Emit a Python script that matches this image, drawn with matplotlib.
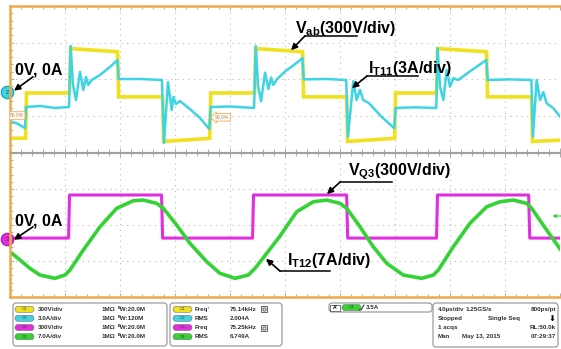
"""Scope capture: Vab / IT11 (top) and VQ3 / IT12 (bottom)
"""

import matplotlib.pyplot as plt
import numpy as np
from matplotlib.patches import FancyBboxPatch, Rectangle

plt.rcParams['font.family'] = ['Liberation Sans', 'DejaVu Sans']
plt.rcParams['mathtext.fontset'] = 'custom'
plt.rcParams['mathtext.rm'] = 'Liberation Sans:bold'
plt.rcParams['mathtext.bf'] = 'Liberation Sans:bold'
plt.rcParams['mathtext.it'] = 'Liberation Sans:bold'

#time base 4us/div, 10 div
t_div = 4.0

#ch1 Vab (V), 300V/div
t_vab = [0.0, 1.13, 1.20, 4.33, 4.40, 7.82, 7.90, 11.10, 11.17, 14.52, 14.60, 17.79,
         17.86, 21.28, 21.35, 24.48, 24.55, 27.97, 28.04, 31.02, 31.09, 34.66, 34.73,
         37.93, 38.00, 40.0]
v_vab = [-380, -378, -7, -7, 358, 332, -39, -39, -405, -380, -7, -7,
         358, 332, -39, -39, -405, -380, -7, -7, 358, 332, -39,
         -39, -405, -395]

#ch2 IT11 (A), 3A/div
t_it11 = [0.0, 0.55, 1.09, 1.16, 2.18, 3.27, 4.29,
          4.41, 4.58, 4.80, 5.09, 5.33, 5.53, 5.69, 5.94, 6.55, 7.27, 7.82,
          7.90, 9.45, 11.05,
          11.20, 11.49, 11.76, 11.88, 12.07, 12.36, 13.09, 13.82, 14.50,
          14.60, 16.0, 17.75,
          17.87, 18.04, 18.26, 18.55, 18.79, 18.99, 19.15, 19.40, 20.01, 20.73, 21.27,
          21.36, 23.0, 24.45,
          24.58, 24.97, 25.21, 25.45, 25.69, 26.10, 27.0, 27.95,
          28.05, 29.5, 31.0,
          31.10, 31.28, 31.52, 31.76, 32.0, 32.24, 32.6, 33.5, 34.64,
          34.74, 36.3, 37.92,
          38.03, 38.30, 38.55, 38.79, 39.03, 39.5, 40.0]
i_it11 = [-2.37, -2.60, -2.95, -1.22, -1.14, -1.30, -1.22,
          3.79, 0.59, -0.65, 1.66, 0.18, 1.24, 0.59, 1.00, 1.41, 2.07, 2.64,
          1.08, 1.08, 1.00,
          -4.18, 0.83, -1.47, -0.40, -0.98, -0.73, -1.39, -2.13, -3.03,
          -1.22, -1.18, -1.30,
          3.79, 0.50, -0.75, 1.60, 0.25, 1.20, 0.60, 1.05, 1.70, 2.30, 2.80,
          1.05, 1.08, 1.00,
          -3.66, 0.90, -0.65, 0.18, -0.65, -0.90, -2.00, -2.97,
          -1.30, -1.25, -1.30,
          3.60, 0.40, -0.65, 1.82, 0.45, 1.14, 1.00, 1.75, 2.64,
          1.00, 1.05, 1.00,
          -3.66, 1.00, -0.65, 0.00, -0.92, -1.30, -2.00]

#ch3 VQ3 (V), 300V/div
t_vq3 = [0.0, 4.26, 4.33, 11.02, 11.10, 17.64, 17.71, 24.48, 24.56, 31.02, 31.09,
         37.72, 37.80, 40.0]
v_vq3 = [8, 8, 367, 367, 8, 8, 367, 367, 8, 8, 367, 367, 8, 8]

#ch4 IT12 (A), 7A/div
t_it12 = [0.0, 0.73, 1.45, 2.18, 3.27, 4.0, 4.36, 5.33, 6.55, 7.76, 8.97, 9.69, 10.67,
          11.15, 12.12, 13.09, 14.31, 15.27, 16.36, 17.33, 17.82, 18.67, 19.64, 20.85,
          22.06, 23.03, 24.0, 24.49, 25.45, 26.42, 27.40, 28.60, 29.94, 30.79, 31.15,
          32.24, 33.45, 34.67, 35.64, 36.60, 37.58, 37.94, 39.03, 40.0]
i_it12 = [-2.47, -4.08, -5.70, -7.0, -7.64, -7.0, -6.03, -2.14, 2.4, 5.97, 7.45, 7.58, 6.94,
          5.97, 2.72, -0.84, -4.41, -6.67, -7.64, -7.0, -5.70, -2.78, 0.6, 5.31,
          7.25, 7.58, 6.94, 5.97, 2.4, -1.5, -4.72, -7.0, -7.64, -7.0, -6.03,
          -1.5, 3.05, 6.28, 7.25, 7.58, 6.94, 5.97, 1.75, -1.9]

trig_level = 3.5

#readout panel text
ch_names = ['C1', 'C2', 'C3', 'C4']
ch_scales = ['300V/div', '3.0A/div', '300V/div', '7.0A/div']
ch_bw = ['\u1d2eW:20.0M', '\u1d2eW:120M', '\u1d2eW:20.0M', '\u1d2eW:20.0M']
meas_names = ["Freq'", 'RMS', 'Freq', 'RMS']
meas_values = ['75.14kHz', '2.004A', '75.25kHz', '6.749A']
acq_rows = [['4.0\u00b5s/div', '1.25GS/s', '800ps/pt'],
            ['Stopped', 'Single Seq', '\u2b07'],
            ['1 acqs', '', 'RL:50.0k'],
            ['Man', 'May 13, 2015', '07:29:37']]

col = {'C1': '#f0e01e', 'C2': '#3ed4e4', 'C3': '#e02ee0', 'C4': '#34d234'}
orange = '#f0a848'

W, H = 561, 349
fig = plt.figure(figsize=(W/100, H/100), dpi=100)
ax1 = fig.add_axes([10/W, (H-152)/H, 550/W, 146/H])
ax2 = fig.add_axes([10/W, (H-297)/H, 550/W, 144/H])

off_top = -0.36
off_bot = -0.39

for ax in (ax1, ax2):
    ax.set_xlim(0, 10*t_div)
    ax.set_ylim(-2, 2)
    ax.set_xticks(np.arange(0, 10*t_div + 0.1, t_div))
    ax.set_yticks([-1, 0, 1])
    ax.set_xticks(np.arange(0, 10*t_div + 0.1, t_div/5), minor=True)
    ax.set_yticks(np.arange(-2, 2.01, 0.2), minor=True)
    ax.grid(True, which='major', color='#b8b8b8', linestyle=(0, (1, 4)), linewidth=0.8)
    ax.tick_params(which='both', direction='in', labelbottom=False, labelleft=False,
                   color='#a0a0a0', width=0.6, top=True)
    ax.tick_params(which='major', length=3)
    ax.tick_params(which='minor', length=2)
    ax.spines['right'].set_visible(False)
    ax.spines['left'].set_color(orange)
    ax.spines['left'].set_linewidth(1.8)

ax1.spines['top'].set_color(orange)
ax1.spines['top'].set_linewidth(1.8)
ax1.spines['bottom'].set_color('#a0a0a0')
ax1.spines['bottom'].set_linewidth(0.8)
ax2.spines['bottom'].set_color(orange)
ax2.spines['bottom'].set_linewidth(1.8)
ax2.spines['top'].set_color('#a0a0a0')
ax2.spines['top'].set_linewidth(0.8)

#traces
ax1.plot(t_vab, np.array(v_vab)/300 + off_top, color=col['C1'], lw=2.6, solid_joinstyle='miter')
ax1.plot(t_it11, np.array(i_it11)/3 + off_top, color=col['C2'], lw=1.8)
ax2.plot(t_vq3, np.array(v_vq3)/300 + off_bot, color=col['C3'], lw=2.2)
ax2.plot(t_it12, np.array(i_it12)/7 + off_bot, color=col['C4'], lw=2.6)

#channel ground markers
ax1.plot([-0.22], [off_top], marker='o', ms=9, mfc=col['C2'], mec='#1a9aa8', mew=0.8, clip_on=False)
ax1.text(-0.22, off_top, '2', fontsize=4, ha='center', va='center', color='#204040', clip_on=False)
ax2.plot([-0.22], [off_bot], marker='o', ms=9, mfc=col['C3'], mec='#a020a0', mew=0.8, clip_on=False)
ax2.text(-0.22, off_bot, '3', fontsize=4, ha='center', va='center', color='#402040', clip_on=False)

#trigger level arrow
ax2.annotate('', xy=(39.45, trig_level/7 + off_bot + 0.14), xytext=(40.1, trig_level/7 + off_bot + 0.14),
             arrowprops=dict(arrowstyle='-|>', color=col['C4'], lw=0.8, mutation_scale=5,
                             shrinkA=0, shrinkB=0), annotation_clip=False)

#cursor tags
tag = dict(boxstyle='larrow,pad=0.25', fc='white', ec=orange, lw=0.6)
ax1.text(15.42, -1.05, '50.0%', fontsize=3.6, color='#c08040', ha='center', va='center', bbox=tag)
ax1.text(1.0, -1.0, '50.0%', fontsize=3.6, color='#c08040', ha='right', va='center', bbox=tag,
         clip_on=True)

#labels
def label(ax, txt, xy, line, tip):
    ax.text(xy[0], xy[1], txt, fontsize=11.5, fontweight='bold', ha='left', va='baseline')
    if line is not None:
        ax.plot([line[0], line[1]], [line[2], line[2]], color='black', lw=1.1)
    ax.annotate('', xy=tip[1], xytext=tip[0],
                arrowprops=dict(arrowstyle='-|>', color='black', lw=1.2, mutation_scale=9,
                                shrinkA=0, shrinkB=0), annotation_clip=False)

label(ax1, '0V, 0A', (0.36, 0.11), None, ((1.67, 0.06), (0.29, -0.32)))
label(ax1, r'$\mathbf{V_{ab}}$(300V/div)', (20.73, 1.26), (21.45, 25.24, 1.18),
      ((21.45, 1.18), (20.44, 0.79)))
label(ax1, r'$\mathbf{I_{T11}}$(3A/div)', (26.04, 0.16), (25.96, 29.67, 0.08),
      ((25.96, 0.08), (24.87, -0.25)))
label(ax2, '0V, 0A', (0.36, 0.0), None, ((1.67, -0.05), (0.29, -0.41)))
label(ax2, r'$\mathbf{V_{Q3}}$(300V/div)', (24.58, 1.39), (24.0, 27.78, 1.19),
      ((24.0, 1.19), (23.05, 0.86)))
label(ax2, r'$\mathbf{I_{T12}}$(7A/div)', (20.15, -1.11), (19.64, 23.27, -1.28),
      ((19.64, -1.28), (18.62, -0.94)))

#readout panel, in pixel units
info = fig.add_axes([0, 0, 1, 52/H])
info.set_xlim(0, W)
info.set_ylim(H, H - 52)
info.axis('off')

def box(x, y, w, h):
    info.add_patch(FancyBboxPatch((x, y), w, h, boxstyle='round,pad=0,rounding_size=3',
                                  fc='white', ec='#909090', lw=0.8))

def pill(x, y, name):
    info.add_patch(FancyBboxPatch((x, y - 3), 19, 6, boxstyle='round,pad=0,rounding_size=3',
                                  fc=col[name], ec='#707070', lw=0.4))
    info.text(x + 9.5, y, name, fontsize=3.2, ha='center', va='center', color='#404040')

txt = dict(fontsize=4.5, fontweight='bold', color='#303030', va='center')
box(13, 303, 154, 43)
box(170, 303, 112, 43)
box(329, 303, 103, 9)
box(433, 303, 125, 44)

rows_y = [309.3, 318.3, 327.5, 336.7]
for k, y in enumerate(rows_y):
    pill(15, y, ch_names[k])
    info.text(38, y, ch_scales[k], **txt)
    info.text(102, y, '1M\u03a9', **txt)
    info.text(118, y, ch_bw[k], **txt)
    pill(173, y, ch_names[k])
    info.text(195, y, meas_names[k], **txt)
    info.text(230, y, meas_values[k], **txt)
    if meas_names[k].startswith('Freq'):
        info.add_patch(Rectangle((261, y - 3), 6, 6, fc='#e8e8e8', ec='#505050', lw=0.6))
        info.plot([264], [y], marker='o', ms=2.2, mfc='none', mec='#404040', mew=0.5)

#trigger readout
info.add_patch(Rectangle((330, 304.5), 10, 6, fc='white', ec='#606060', lw=0.6))
info.text(335, 307.5, "A'", fontsize=3.6, fontweight='bold', ha='center', va='center')
pill(342, 307.5, 'C4')
info.plot([359, 361, 364], [310, 310, 305], color='#202020', lw=0.7)
info.text(366, 307.5, '3.5A', **txt)

#acquisition readout
for k, y in enumerate(rows_y):
    r = acq_rows[k]
    info.text(438, y, r[0], **txt)
    if k == 1:
        info.text(488, y, r[1], **txt)
        info.text(552, y + 0.5, r[2], fontsize=6, color='black', va='center', ha='center',
                  family=['DejaVu Sans'])
    elif k == 3:
        info.text(462, y, r[1], **txt)
        info.text(556, y, r[2], ha='right', fontsize=4.5, fontweight='bold', color='#303030', va='center')
    else:
        if r[1]:
            info.text(466, y, r[1], **txt)
        info.text(556, y, r[2], ha='right', fontsize=4.5, fontweight='bold', color='#303030', va='center')

fig.savefig('out.png', dpi=100)
